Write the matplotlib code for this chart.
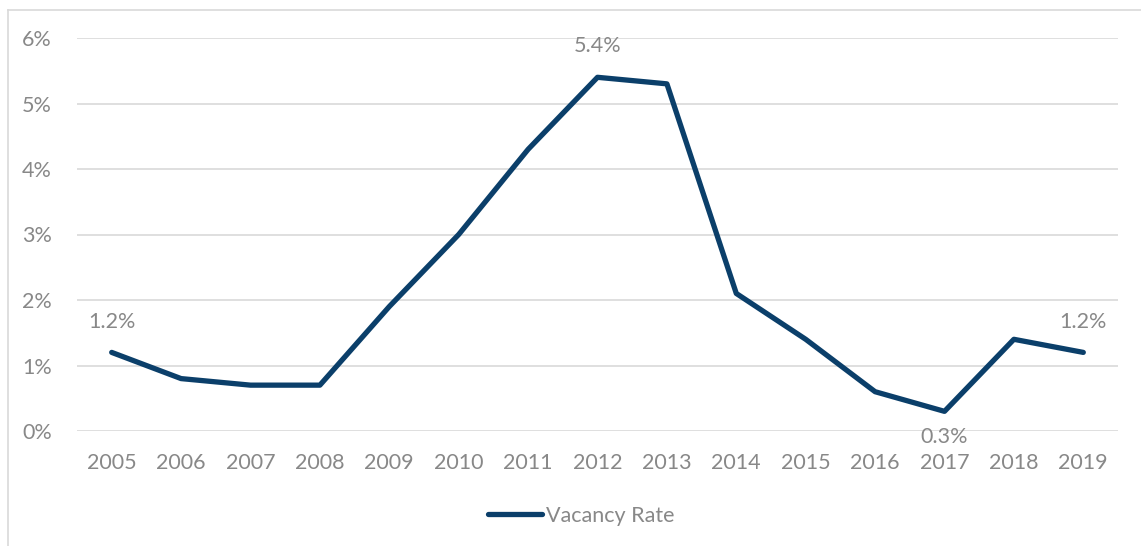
import matplotlib
matplotlib.use("Agg")
import matplotlib.pyplot as plt
from matplotlib.lines import Line2D

years = ["2005", "2006", "2007", "2008", "2009", "2010", "2011", "2012",
         "2013", "2014", "2015", "2016", "2017", "2018", "2019"]
vacancy = [1.2, 0.8, 0.7, 0.7, 1.9, 3.0, 4.3, 5.4, 5.3, 2.1, 1.4, 0.6, 0.3, 1.4, 1.2]
y_ticks = [0, 1, 2, 3, 4, 5, 6]
y_tick_labels = ["0%", "1%", "2%", "3%", "4%", "5%", "6%"]
labelled = {0: "above", 7: "above", 12: "below", 14: "above"}

plt.rcParams['font.family'] = ['Lato', 'DejaVu Sans']
txt = "#888888"
line_c = "#0B3F6A"
fs = 15.5

W, H = 1141, 546
fig = plt.figure(figsize=(W / 100, H / 100), dpi=100)
ax = fig.add_axes([77 / W, 1 - 431 / H, (1118 - 77) / W, (431 - 38) / H])

x = list(range(len(years)))
ax.plot(x, vacancy, color=line_c, lw=3.8, solid_capstyle='round',
        solid_joinstyle='round', label="Vacancy Rate", zorder=3)

for i, pos in labelled.items():
    off = 15 if pos == "above" else -11
    ax.annotate(f"{vacancy[i]:.1f}%", (x[i], vacancy[i]), textcoords="offset points",
                xytext=(0, off), ha='center', va='bottom' if pos == "above" else 'top',
                color=txt, fontsize=fs)

ax.set_xlim(-0.5, len(years) - 0.5)
ax.set_ylim(0, 6)
ax.set_xticks(x)
ax.set_xticklabels(years)
ax.set_yticks(y_ticks)
ax.set_yticklabels(y_tick_labels)
ax.tick_params(axis='both', length=0, colors=txt, labelsize=fs)
ax.tick_params(axis='x', pad=16)
ax.tick_params(axis='y', pad=18)
for s in ax.spines.values():
    s.set_visible(False)
ax.grid(axis='y', color='#D9D9D9', lw=1.2)
ax.set_axisbelow(True)

leg = fig.legend(loc='center', bbox_to_anchor=(581 / W, 1 - 516 / H), frameon=False,
                 fontsize=fs, handlelength=2.5, handletextpad=0.2, labelcolor=txt)

# outer chart border (left and top)
fig.add_artist(Line2D([8 / W, 8 / W], [0, 1 - 10 / H], transform=fig.transFigure,
                      color='#D9D9D9', lw=1.2))
fig.add_artist(Line2D([8 / W, 1], [1 - 10 / H, 1 - 10 / H], transform=fig.transFigure,
                      color='#D9D9D9', lw=1.2))

fig.savefig("out.png", dpi=100)
